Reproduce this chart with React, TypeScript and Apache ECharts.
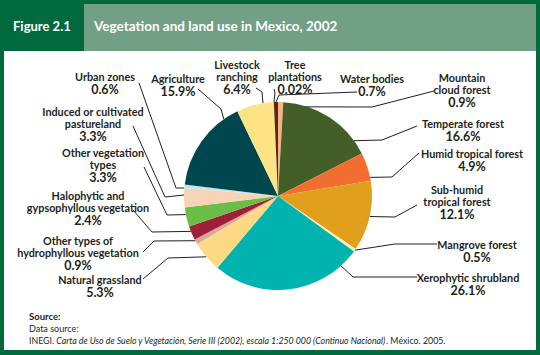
import { useEffect, useRef } from "react";
import * as echarts from "echarts";

// ---- Data ----
const categories = [
  "Mountain cloud forest",
  "Temperate forest",
  "Humid tropical forest",
  "Sub-humid tropical forest",
  "Mangrove forest",
  "Xerophytic shrubland",
  "Natural grassland",
  "Other types of hydrophyllous vegetation",
  "Halophytic and gypsophyllous vegetation",
  "Other vegetation types",
  "Induced or cultivated pastureland",
  "Urban zones",
  "Agriculture",
  "Livestock ranching",
  "Tree plantations",
  "Water bodies",
];
const shares = [0.9, 16.6, 4.9, 12.1, 0.5, 26.1, 5.3, 0.9, 2.4, 3.3, 3.3, 0.6, 15.9, 6.4, 0.02, 0.7];
const labelLines = [
  ["Mountain", "cloud forest"],
  ["Temperate forest"],
  ["Humid tropical forest"],
  ["Sub-humid", "tropical forest"],
  ["Mangrove forest"],
  ["Xerophytic shrubland"],
  ["Natural grassland"],
  ["Other types of", "hydrophyllous vegetation"],
  ["Halophytic and", "gypsophyllous vegetation"],
  ["Other vegetation", "types"],
  ["Induced or cultivated", "pastureland"],
  ["Urban zones"],
  ["Agriculture"],
  ["Livestock", "ranching"],
  ["Tree", "plantations"],
  ["Water bodies"],
];
const sliceColors = [
  "#f7b385", "#435e27", "#f26e30", "#e09f1c", "#fbf0b4", "#00b3ae", "#fdd985", "#d9a79c",
  "#a11e38", "#6abd47", "#f8d3b6", "#c0e5ee", "#00464e", "#fde384", "#7a6a2a", "#5a2810",
];

const titleText = "Vegetation and land use in Mexico, 2002";
const figureText = "Figure 2.1";

// ---- Layout (positions of labels and leader lines) ----
const CX = 278, CY = 196, R = 94;
type Spec = { x: number; y: number; end: number[]; elbow: number[]; angle: number; rf?: number };
const labelSpecs: Spec[] = [
  { x: 462, y: 71, end: [434, 91], elbow: [372, 107], angle: 2.6, rf: 0.95 },
  { x: 463, y: 117, end: [417, 126], elbow: [382, 140], angle: 54 },
  { x: 472, y: 147, end: [419, 153], elbow: [392, 177], angle: 78.6 },
  { x: 457, y: 183, end: [417, 205], elbow: [395, 217], angle: 102.6 },
  { x: 477, y: 238, end: [437, 244], elbow: [395, 244], angle: 125.2 },
  { x: 468, y: 271, end: [417, 277], elbow: [353, 277], angle: 138 },
  { x: 100, y: 273, end: [143, 279], elbow: [168, 258], angle: 229.7 },
  { x: 78, y: 234, end: [143, 252], elbow: [154, 241], angle: 241.6 },
  { x: 88, y: 189, end: [133, 210], elbow: [152, 232], angle: 247.9 },
  { x: 103, y: 146, end: [144, 167], elbow: [167, 215], angle: 258.6 },
  { x: 93, y: 105, end: [133, 126], elbow: [165, 197], angle: 270.6 },
  { x: 105, y: 70, end: [139, 83], elbow: [176, 188], angle: 274.9 },
  { x: 178, y: 72, end: [198, 89], elbow: [221, 109], angle: 324.8 },
  { x: 237, y: 58, end: [256, 88], elbow: [262, 92], angle: 350.8 },
  { x: 295, y: 58, end: [274, 89], elbow: [275, 93], angle: 357.5 },
  { x: 372, y: 72, end: [357, 92], elbow: [279, 95], angle: 358.8 },
];

const DARK = "#00693e";
const LIGHT = "#72a086";
const INK = "#231f20";
const FONT = "Lato, 'Open Sans', sans-serif";

export default function App() {
  const ref = useRef<HTMLDivElement>(null);
  useEffect(() => {
    const chart = echarts.init(ref.current!, null, { renderer: "svg" });
    chart.setOption({
      animation: false,
      graphic: [
        { type: "rect", z: 0, shape: { x: 0, y: 0, width: 540, height: 355 }, style: { fill: DARK } },
        { type: "rect", z: 0, shape: { x: 4, y: 51, width: 532, height: 299 }, style: { fill: "#ffffff" } },
        { type: "rect", z: 0, shape: { x: 84, y: 4, width: 452, height: 47 }, style: { fill: LIGHT } },
        {
          type: "text", z: 1, x: 13, y: 26,
          style: { text: figureText, fill: "#ffffff", font: `bold 13px ${FONT}`, verticalAlign: "middle" },
        },
        {
          type: "text", z: 1, x: 94, y: 26,
          style: { text: titleText, fill: "#ffffff", font: `bold 13.5px ${FONT}`, verticalAlign: "middle" },
        },
        {
          type: "text", z: 1, x: 29, y: 316,
          style: { text: "Source:", fill: INK, font: `bold 9.5px ${FONT}`, verticalAlign: "middle" },
        },
        {
          type: "text", z: 1, x: 29, y: 328,
          style: { text: "Data source:", fill: INK, font: `9px ${FONT}`, verticalAlign: "middle" },
        },
        {
          type: "text", z: 1, x: 29, y: 340,
          style: {
            text: "{r|INEGI. }{i|Carta de Uso de Suelo y Vegetación, Serie III (2002), escala 1:250 000 (Continuo Nacional)}{r|. México. 2005.}",
            verticalAlign: "middle",
            rich: {
              r: { fill: INK, fontFamily: FONT, fontSize: 8.8 },
              i: { fill: INK, fontFamily: FONT, fontSize: 8.8, fontStyle: "italic" },
            },
          },
        },
      ],
      series: [
        {
          type: "pie",
          center: [CX, CY],
          radius: R,
          startAngle: 90,
          clockwise: true,
          avoidLabelOverlap: false,
          z: 5,
          data: categories.map((name, i) => ({
            name,
            value: shares[i],
            itemStyle: { color: sliceColors[i] },
          })),
          label: {
            show: true,
            position: "outside",
            formatter: (p: any) =>
              labelLines[p.dataIndex].map((l) => `{n|${l}}`).join("\n") + `\n{p|${p.value}%}`,
            rich: {
              n: { fontFamily: FONT, fontWeight: "bold", fontSize: 10.8, lineHeight: 12, color: INK, align: "center" },
              p: { fontFamily: FONT, fontWeight: "bold", fontSize: 12.5, lineHeight: 14, color: INK, align: "center" },
            },
          },
          labelLine: { show: true, lineStyle: { color: INK, width: 1 } },
          labelLayout: (params: any) => {
            const s = labelSpecs[params.dataIndex];
            const a = (s.angle * Math.PI) / 180;
            const rf = s.rf ?? 1;
            const anchor = [CX + R * rf * Math.sin(a), CY - R * rf * Math.cos(a)];
            return {
              x: s.x,
              y: s.y,
              align: "center",
              verticalAlign: "top",
              labelLinePoints: [anchor, s.elbow, s.end],
            };
          },
        },
      ],
    });
    return () => chart.dispose();
  }, []);
  return <div ref={ref} style={{ position: "absolute", left: 0, top: 0, width: 540, height: 355 }} />;
}
